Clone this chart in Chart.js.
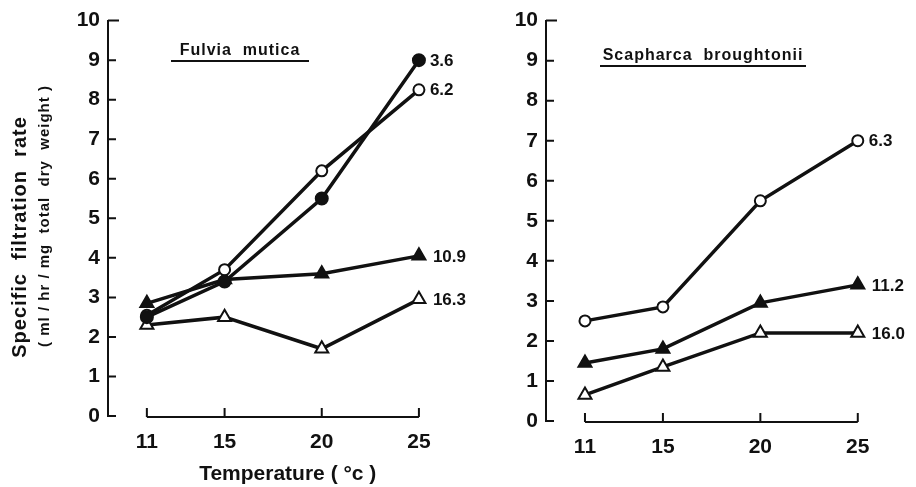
<!DOCTYPE html>
<html>
<head>
<meta charset="utf-8">
<script src="https://cdn.jsdelivr.net/npm/chart.js@4.4.1/dist/chart.umd.min.js"></script>
<style>
  html, body { margin: 0; padding: 0; background: #fff; }
  body { width: 916px; height: 487px; position: relative; overflow: hidden; }
  .panel { position: absolute; top: 0; height: 487px; }
  #leftBox { left: 0; width: 477px; }
  #rightBox { left: 460px; width: 456px; }
</style>
</head>
<body>
<div class="panel" id="leftBox"><canvas id="leftChart" width="477" height="487"></canvas></div>
<div class="panel" id="rightBox"><canvas id="rightChart" width="456" height="487"></canvas></div>
<script>
// temperatures (x) and axis ticks
const temperatures = [11, 15, 20, 25];
const xTickValues = [11, 15, 20, 25];
const yTickValues = [0, 1, 2, 3, 4, 5, 6, 7, 8, 9, 10];

// Fulvia mutica - one series per shell size (label at line end)
const fulviaSizes = ['3.6', '6.2', '10.9', '16.3'];
const fulvia36 = [2.5, 3.4, 5.5, 9.0];
const fulvia62 = [2.55, 3.7, 6.2, 8.25];
const fulvia109 = [2.85, 3.45, 3.6, 4.05];
const fulvia163 = [2.3, 2.5, 1.7, 2.95];

// Scapharca broughtonii
const scapharcaSizes = ['6.3', '11.2', '16.0'];
const scapharca63 = [2.5, 2.85, 5.5, 7.0];
const scapharca112 = [1.45, 1.8, 2.95, 3.4];
const scapharca160 = [0.65, 1.35, 2.2, 2.2];

const INK = '#111';
const FONT = 'Liberation Sans, Arial, sans-serif';

const markers = {
  filledCircle: { pointStyle: 'circle', pointRadius: 6, pointBackgroundColor: INK },
  openCircle: { pointStyle: 'circle', pointRadius: 5.5, pointBackgroundColor: '#fff' },
  filledTriangle: { pointStyle: 'triangle', pointRadius: 7.5, pointBackgroundColor: INK },
  openTriangle: { pointStyle: 'triangle', pointRadius: 7.5, pointBackgroundColor: '#fff' },
};

function series(values, label, marker) {
  return {
    data: temperatures.map((t, i) => ({ x: t, y: values[i] })),
    endLabel: label,
    borderColor: INK,
    borderWidth: 3.5,
    pointBorderColor: INK,
    pointBorderWidth: 2,
    fill: false,
    tension: 0,
    ...markers[marker],
  };
}

// axis bracket, inward ticks, panel title, end labels, y title
const panelDecor = {
  id: 'panelDecor',
  afterDatasetsDraw(chart) {
    const ctx = chart.ctx;
    ctx.save();
    ctx.fillStyle = INK;
    ctx.font = 'bold 17px ' + FONT;
    ctx.textBaseline = 'middle';
    chart.data.datasets.forEach((ds, i) => {
      const pts = chart.getDatasetMeta(i).data;
      const last = pts[pts.length - 1];
      const gap = ds.pointStyle === 'triangle' ? 14 : 11;
      ctx.fillText(ds.endLabel, last.x + gap, last.y + 1);
    });
    ctx.restore();
  },
  afterDraw(chart, args, opts) {
    const { ctx, scales: { x, y } } = chart;
    ctx.save();
    ctx.strokeStyle = INK;
    ctx.lineWidth = 2;
    const y0 = y.getPixelForValue(0) + 1;
    ctx.beginPath();
    ctx.moveTo(x.getPixelForValue(xTickValues[0]), y0);
    ctx.lineTo(x.getPixelForValue(xTickValues[xTickValues.length - 1]), y0);
    xTickValues.forEach(v => {
      const px = x.getPixelForValue(v);
      ctx.moveTo(px, y0);
      ctx.lineTo(px, y0 - 9);
    });
    yTickValues.forEach(v => {
      const py = y.getPixelForValue(v);
      ctx.moveTo(x.left, py);
      ctx.lineTo(x.left + (v === 10 ? 11 : 8), py);
    });
    ctx.stroke();

    // species title, underlined
    ctx.fillStyle = INK;
    ctx.font = 'bold 16px ' + FONT;
    ctx.letterSpacing = '1px';
    ctx.textAlign = 'center';
    ctx.textBaseline = 'alphabetic';
    ctx.fillText(opts.title, opts.titleX, opts.titleY);
    ctx.lineWidth = 2;
    ctx.beginPath();
    ctx.moveTo(opts.lineFrom, opts.titleY + 6);
    ctx.lineTo(opts.lineTo, opts.titleY + 6);
    ctx.stroke();

    if (opts.yTitle) {
      ctx.translate(20, 237);
      ctx.rotate(-Math.PI / 2);
      ctx.textBaseline = 'middle';
      ctx.font = 'bold 20px ' + FONT;
      ctx.fillText(opts.yTitle, 0, 0);
      ctx.font = 'bold 15px ' + FONT;
      ctx.letterSpacing = '1px';
      ctx.fillText(opts.ySubTitle, 21, 25);
    }
    ctx.restore();
  }
};

const tickFont = { family: FONT, size: 21, weight: 'bold' };

function panelOptions(axisWidth, rightPad, xAxisHeight, xTitle, decor) {
  return {
    responsive: false,
    animation: false,
    layout: { padding: { top: 20, right: rightPad, bottom: 0, left: 0 } },
    plugins: {
      legend: { display: false },
      tooltip: { enabled: false },
      panelDecor: decor,
    },
    scales: {
      x: {
        type: 'linear',
        min: 9,
        max: 27.5,
        afterBuildTicks: s => { s.ticks = xTickValues.map(v => ({ value: v })); },
        afterFit: s => { s.height = xAxisHeight; },
        grid: { display: false, drawTicks: false },
        border: { display: false },
        ticks: { color: INK, font: tickFont, padding: 14, maxRotation: 0, autoSkip: false },
        title: {
          display: !!xTitle,
          text: xTitle || '',
          color: INK,
          font: { family: FONT, size: 21, weight: 'bold' },
          padding: { top: 0, bottom: 0 },
        },
      },
      y: {
        min: 0,
        max: 10,
        afterBuildTicks: s => { s.ticks = yTickValues.map(v => ({ value: v })); },
        afterFit: s => { s.width = axisWidth; },
        grid: { display: false, drawTicks: false },
        border: { display: true, color: INK, width: 2 },
        ticks: { color: INK, font: tickFont, padding: 8 },
      },
    },
  };
}

new Chart(document.getElementById('leftChart'), {
  type: 'line',
  data: {
    datasets: [
      series(fulvia36, fulviaSizes[0], 'filledCircle'),
      series(fulvia62, fulviaSizes[1], 'openCircle'),
      series(fulvia109, fulviaSizes[2], 'filledTriangle'),
      series(fulvia163, fulviaSizes[3], 'openTriangle'),
    ],
  },
  options: panelOptions(108, 0, 71, 'Temperature ( °c )', {
    title: 'Fulvia  mutica', titleX: 240, titleY: 55, lineFrom: 171, lineTo: 309,
    yTitle: 'Specific  filtration  rate',
    ySubTitle: '( ml / hr / mg  total  dry  weight )',
  }),
  plugins: [panelDecor],
});

new Chart(document.getElementById('rightChart'), {
  type: 'line',
  data: {
    datasets: [
      series(scapharca63, scapharcaSizes[0], 'openCircle'),
      series(scapharca112, scapharcaSizes[1], 'filledTriangle'),
      series(scapharca160, scapharcaSizes[2], 'openTriangle'),
    ],
  },
  options: panelOptions(86, 3, 66, null, {
    title: 'Scapharca  broughtonii', titleX: 243, titleY: 60, lineFrom: 140, lineTo: 346,
  }),
  plugins: [panelDecor],
});
</script>
</body>
</html>
